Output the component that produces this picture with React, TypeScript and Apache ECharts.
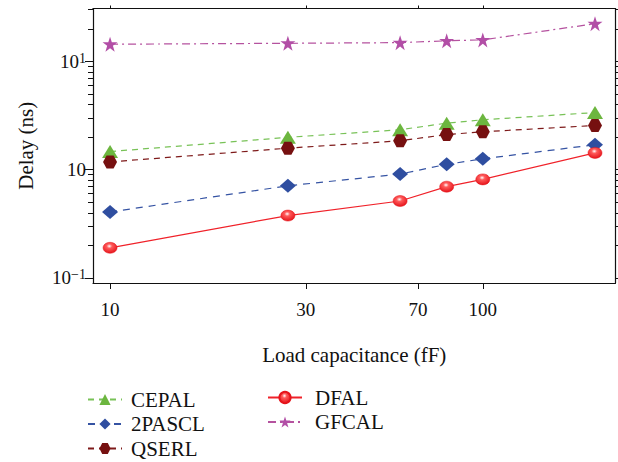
import React, { useEffect, useRef } from "react";
import * as echarts from "echarts";

// Load capacitance (fF)
const xValues = [10, 30, 60, 80, 100, 200];
// Delay (ns)
const cepal = [1.47, 1.99, 2.34, 2.69, 2.89, 3.37];
const pascl2 = [0.407, 0.71, 0.912, 1.12, 1.26, 1.7];
const qserl = [1.18, 1.58, 1.85, 2.11, 2.24, 2.56];
const dfal = [0.19, 0.377, 0.514, 0.697, 0.814, 1.43];
const gfcal = [14.4, 14.7, 14.9, 15.5, 15.8, 22.3];

// axis ticks as drawn in the reference
const xTickValues = [10, 33.5, 67, 100];
const xTickLabels = ["10", "30", "70", "100"];
const yMajorTicks = [0.1, 1, 10];
const yMajorBase = ["10", "10", "10"];
const yMajorSup = ["\u22121", "", "1"];
const yMinorTicks = [0.2, 0.3, 0.4, 0.5, 0.6, 0.7, 0.8, 0.9, 2, 3, 4, 5, 6, 7, 8, 9, 20, 30];

const FONT = "Liberation Serif";

const zip = (vals: number[]) => xValues.map((x, i) => [x, vals[i]]);

const STAR =
  "path://M50,0 L61.8,35.4 L100,35.4 L69.1,57.3 L80.9,95.1 L50,72.4 L19.1,95.1 L30.9,57.3 L0,35.4 L38.2,35.4 Z";
const HEX = "path://M25,0 L75,0 L100,50 L75,100 L25,100 L0,50 Z";

export default function App() {
  const ref = useRef<HTMLDivElement>(null);
  useEffect(() => {
    document.body.style.margin = "0";
    const chart = echarts.init(ref.current!, null, { renderer: "svg" });
    const xMin = 9.0;
    const xMax = 227;
    const yMin = 0.0899;
    const yMax = 30.8;
    const axisLine = { show: true, lineStyle: { color: "#111", width: 1.2 } };
    const redGrad = new echarts.graphic.RadialGradient(0.45, 0.35, 0.65, [
      { offset: 0, color: "#ffffff" },
      { offset: 0.3, color: "#ff5a5a" },
      { offset: 1, color: "#e5141b" },
    ]);
    const legendText = { fontFamily: FONT, fontSize: 21, lineHeight: 21, color: "#111" };
    chart.setOption({
      animation: false,
      grid: { left: 93, right: 2.5, top: 8.5, bottom: 179 },
      legend: [
        {
          orient: "vertical",
          left: 87,
          top: 389,
          height: 73,
          padding: 0,
          itemWidth: 34,
          itemHeight: 14,
          itemGap: 3.5,
          data: ["CEPAL", "2PASCL", "QSERL"],
          textStyle: { ...legendText, padding: [0, 0, 0, 4] },
        },
        {
          orient: "vertical",
          left: 267,
          top: 387,
          height: 60,
          padding: 0,
          itemWidth: 34,
          itemHeight: 14,
          itemGap: 3.5,
          data: ["DFAL", "GFCAL"],
          textStyle: { ...legendText, padding: [0, 0, 0, 8] },
        },
      ],
      xAxis: [
        {
          type: "log",
          min: xMin,
          max: xMax,
          position: "bottom",
          name: "Load capacitance (fF)",
          nameLocation: "middle",
          nameGap: 61,
          nameTextStyle: { fontFamily: FONT, fontSize: 21, color: "#111" },
          axisLine,
          axisTick: { show: true, inside: false, length: 6, customValues: xTickValues, lineStyle: { color: "#111" } },
          axisLabel: {
            show: true,
            margin: 17,
            customValues: xTickValues,
            fontFamily: FONT,
            fontSize: 19,
            color: "#111",
            formatter: (v: number) => {
              const i = xTickValues.findIndex((t) => Math.abs(t - v) / t < 1e-3);
              return i >= 0 ? xTickLabels[i] : "";
            },
          },
          splitLine: { show: false },
          minorTick: { show: false },
        },
        {
          type: "log",
          min: xMin,
          max: xMax,
          position: "top",
          axisLine,
          axisTick: { show: true, inside: false, length: 3, customValues: xTickValues, lineStyle: { color: "#111" } },
          axisLabel: { show: false },
          splitLine: { show: false },
        },
      ],
      yAxis: [
        {
          type: "log",
          min: yMin,
          max: yMax,
          position: "left",
          name: "Delay (ns)",
          nameLocation: "middle",
          nameGap: 57,
          nameTextStyle: { fontFamily: FONT, fontSize: 21, color: "#111" },
          axisLine,
          axisTick: { show: true, inside: false, length: 8, customValues: yMajorTicks, lineStyle: { color: "#111" } },
          axisLabel: {
            show: true,
            margin: 7,
            customValues: yMajorTicks,
            formatter: (v: number) => {
              const i = yMajorTicks.findIndex((t) => Math.abs(t - v) / t < 1e-3);
              if (i < 0) return "";
              return yMajorSup[i] ? `{b|${yMajorBase[i]}}{s|${yMajorSup[i]}}` : `{b|${yMajorBase[i]}}`;
            },
            rich: {
              b: { fontFamily: FONT, fontSize: 19, color: "#111", lineHeight: 20 },
              s: { fontFamily: FONT, fontSize: 14, color: "#111", verticalAlign: "top", lineHeight: 20, padding: [0, 0, 12, 0] },
            },
          },
          splitLine: { show: false },
        },
        {
          type: "log",
          min: yMin,
          max: yMax,
          position: "left",
          axisLine: { show: false },
          axisTick: { show: true, inside: false, length: 5, customValues: yMinorTicks, lineStyle: { color: "#111" } },
          axisLabel: { show: false },
          splitLine: { show: false },
        },
        {
          type: "log",
          min: yMin,
          max: yMax,
          position: "right",
          axisLine,
          axisTick: {
            show: true,
            inside: false,
            length: 5,
            customValues: [...yMajorTicks, ...yMinorTicks],
            lineStyle: { color: "#111" },
          },
          axisLabel: { show: false },
          splitLine: { show: false },
        },
      ],
      series: [
        {
          name: "CEPAL",
          type: "line",
          data: zip(cepal),
          symbol: "triangle",
          symbolSize: [16, 13],
          lineStyle: { color: "#78c257", width: 1.2, type: [6, 5] },
          itemStyle: { color: "#6cb63f" },
        },
        {
          name: "2PASCL",
          type: "line",
          data: zip(pascl2),
          symbol: "diamond",
          symbolSize: [16, 14],
          lineStyle: { color: "#3553a3", width: 1.2, type: [7, 6] },
          itemStyle: { color: "#2f4ea0" },
        },
        {
          name: "QSERL",
          type: "line",
          data: zip(qserl),
          symbol: HEX,
          symbolSize: [14, 13],
          lineStyle: { color: "#7e1a1a", width: 1.2, type: [6, 5] },
          itemStyle: { color: "#761010" },
        },
        {
          name: "DFAL",
          type: "line",
          data: zip(dfal),
          symbol: "circle",
          symbolSize: [14, 11],
          lineStyle: { color: "#f0222a", width: 1.2, type: "solid" },
          itemStyle: { color: redGrad, borderColor: "#e5141b", borderWidth: 0.5 },
        },
        {
          name: "GFCAL",
          type: "line",
          data: zip(gfcal),
          symbol: STAR,
          symbolSize: 15,
          lineStyle: { color: "#b5529f", width: 1.2, type: [8, 4, 2, 4] },
          itemStyle: { color: "#b24ea6" },
        },
      ],
    });
    return () => chart.dispose();
  }, []);
  return <div ref={ref} style={{ width: 618, height: 462 }} />;
}
